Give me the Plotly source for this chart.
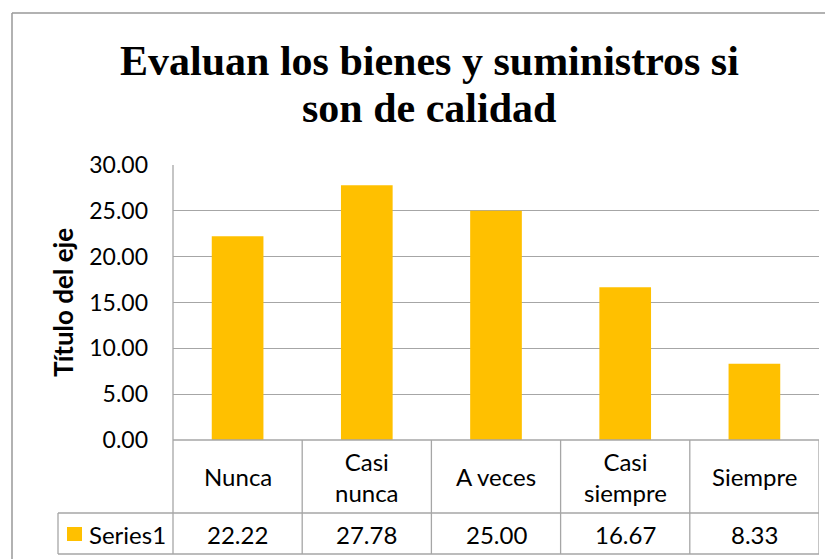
import plotly.graph_objects as go

# ---- data ----
categories = ["Nunca", "Casi nunca", "A veces", "Casi siempre", "Siempre"]
cat_labels = ["Nunca", "Casi<br>nunca", "A veces", "Casi<br>siempre", "Siempre"]
values = [22.22, 27.78, 25.00, 16.67, 8.33]
series_name = "Series1"
title_lines = ["Evaluan los bienes y suministros si", "son de calidad"]
y_title = "Título del eje"
y_ticks = [0, 5, 10, 15, 20, 25, 30]

# ---- layout geometry (pixels, in screen coords; page body has an 8px margin) ----
O = 8
W, H = 833 - O, 559 - O
L, R, T, B = 173 - O, 819 - O, 165 - O, 440 - O


def px(x):
    return (x - O - L) / (R - L)


def py(y):
    return (B - (y - O)) / (B - T)


BAR = "#FFC000"
GRID = "#A6A6A6"
FONT = "Lato"
FS = 24

fig = go.Figure()
fig.add_trace(go.Bar(x=categories, y=values, name=series_name, marker=dict(color=BAR, line=dict(width=0)),
                     width=0.4, showlegend=False))

shapes = []
line = dict(color=GRID, width=1.3)
# outer chart border
shapes.append(dict(type="line", xref="paper", yref="paper", x0=px(12), x1=px(850), y0=py(13), y1=py(13),
                   line=dict(color="#999999", width=1.5)))
shapes.append(dict(type="line", xref="paper", yref="paper", x0=px(12), x1=px(12), y0=py(13), y1=py(580),
                   line=dict(color="#999999", width=1.5)))
# left axis line extended into the table
shapes.append(dict(type="line", xref="paper", yref="paper", x0=0, x1=0, y0=1, y1=py(554), line=line))
# table horizontal lines
shapes.append(dict(type="line", xref="paper", yref="paper", x0=0, x1=1, y0=0, y1=0, line=line))
shapes.append(dict(type="line", xref="paper", yref="paper", x0=px(58), x1=1, y0=py(513), y1=py(513), line=line))
shapes.append(dict(type="line", xref="paper", yref="paper", x0=px(58), x1=1, y0=py(554), y1=py(554), line=line))
shapes.append(dict(type="line", xref="paper", yref="paper", x0=px(58), x1=px(58), y0=py(513), y1=py(554), line=line))
# table vertical lines between categories
for i in range(len(categories)):
    shapes.append(dict(type="line", xref="x", yref="paper", x0=i + 0.5, x1=i + 0.5, y0=0, y1=py(554), line=line))
# legend key
shapes.append(dict(type="rect", xref="paper", yref="paper", x0=px(67), x1=px(82), y0=py(527), y1=py(541),
                   fillcolor=BAR, line=dict(width=0)))

annotations = []
# title lines
for txt, yy in zip(title_lines, [61, 108]):
    annotations.append(dict(text="<b>" + txt + "</b>", xref="paper", yref="paper", x=px(429), y=py(yy),
                            xanchor="center", yanchor="middle", showarrow=False,
                            font=dict(family="Liberation Serif", size=42, color="black")))
# axis title
annotations.append(dict(text="<b>" + y_title + "</b>", xref="paper", yref="paper", x=px(63), y=py(303),
                        xanchor="center", yanchor="middle", textangle=-90, showarrow=False,
                        font=dict(family=FONT, size=26, color="black")))
# table cells
for c, lab, v in zip(categories, cat_labels, values):
    annotations.append(dict(text=lab, xref="x", yref="paper", x=c, y=py(476.5), xanchor="center",
                            yanchor="middle", showarrow=False, font=dict(family=FONT, size=FS, color="black")))
    annotations.append(dict(text=f"{v:.2f}", xref="x", yref="paper", x=c, y=py(534), xanchor="center",
                            yanchor="middle", showarrow=False, font=dict(family=FONT, size=FS, color="black")))
annotations.append(dict(text=series_name, xref="paper", yref="paper", x=px(87), y=py(534), xanchor="left",
                        yanchor="middle", showarrow=False, font=dict(family=FONT, size=FS, color="black")))

fig.update_layout(
    width=W, height=H,
    margin=dict(l=L, r=W - R, t=T, b=H - B),
    paper_bgcolor="white", plot_bgcolor="white",
    shapes=shapes, annotations=annotations,
    xaxis=dict(showticklabels=False, showgrid=False, zeroline=False, showline=False,
               range=[-0.5, len(categories) - 0.5]),
    yaxis=dict(range=[0, 30], tickvals=y_ticks, tickformat=".2f", showgrid=True, gridcolor=GRID, gridwidth=1.3,
               zeroline=False, showline=False, ticks="", ticklabelstandoff=24,
               tickfont=dict(family=FONT, size=23, color="black")),
    font=dict(family=FONT),
    bargap=0.6,
)

fig.write_html("out.html")
